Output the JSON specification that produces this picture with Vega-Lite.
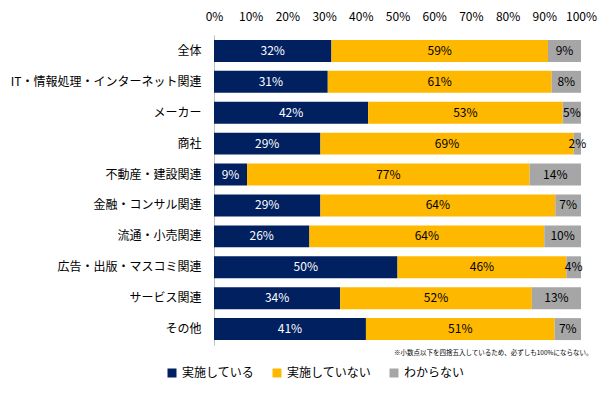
{
  "$schema": "https://vega.github.io/schema/vega-lite/v6.json",
  "width": 367,
  "height": 310,
  "autosize": {"type": "none"},
  "padding": {"left": 214, "top": 35, "right": 32, "bottom": 48},
  "background": "white",
  "config": {
    "view": {"stroke": null},
    "font": "Noto Sans CJK JP",
    "text": {"font": "Noto Sans CJK JP"}
  },
  "title": {
    "text": "※小数点以下を四捨五入しているため、必ずしも100%にならない。",
    "orient": "bottom",
    "anchor": "end",
    "fontSize": 6.5,
    "fontWeight": "normal",
    "color": "#000000",
    "offset": 2,
    "dx": -4,
    "dy": -31
  },
  "data": {
    "values": [
      {"cat": "全体", "ans": "実施している", "rank": 1, "v": 0.32},
      {"cat": "全体", "ans": "実施していない", "rank": 2, "v": 0.59},
      {"cat": "全体", "ans": "わからない", "rank": 3, "v": 0.09},
      {"cat": "IT・情報処理・インターネット関連", "ans": "実施している", "rank": 1, "v": 0.31},
      {"cat": "IT・情報処理・インターネット関連", "ans": "実施していない", "rank": 2, "v": 0.61},
      {"cat": "IT・情報処理・インターネット関連", "ans": "わからない", "rank": 3, "v": 0.08},
      {"cat": "メーカー", "ans": "実施している", "rank": 1, "v": 0.42},
      {"cat": "メーカー", "ans": "実施していない", "rank": 2, "v": 0.53},
      {"cat": "メーカー", "ans": "わからない", "rank": 3, "v": 0.05},
      {"cat": "商社", "ans": "実施している", "rank": 1, "v": 0.29},
      {"cat": "商社", "ans": "実施していない", "rank": 2, "v": 0.69},
      {"cat": "商社", "ans": "わからない", "rank": 3, "v": 0.02},
      {"cat": "不動産・建設関連", "ans": "実施している", "rank": 1, "v": 0.09},
      {"cat": "不動産・建設関連", "ans": "実施していない", "rank": 2, "v": 0.77},
      {"cat": "不動産・建設関連", "ans": "わからない", "rank": 3, "v": 0.14},
      {"cat": "金融・コンサル関連", "ans": "実施している", "rank": 1, "v": 0.29},
      {"cat": "金融・コンサル関連", "ans": "実施していない", "rank": 2, "v": 0.64},
      {"cat": "金融・コンサル関連", "ans": "わからない", "rank": 3, "v": 0.07},
      {"cat": "流通・小売関連", "ans": "実施している", "rank": 1, "v": 0.26},
      {"cat": "流通・小売関連", "ans": "実施していない", "rank": 2, "v": 0.64},
      {"cat": "流通・小売関連", "ans": "わからない", "rank": 3, "v": 0.10},
      {"cat": "広告・出版・マスコミ関連", "ans": "実施している", "rank": 1, "v": 0.50},
      {"cat": "広告・出版・マスコミ関連", "ans": "実施していない", "rank": 2, "v": 0.46},
      {"cat": "広告・出版・マスコミ関連", "ans": "わからない", "rank": 3, "v": 0.04},
      {"cat": "サービス関連", "ans": "実施している", "rank": 1, "v": 0.344},
      {"cat": "サービス関連", "ans": "実施していない", "rank": 2, "v": 0.522},
      {"cat": "サービス関連", "ans": "わからない", "rank": 3, "v": 0.134},
      {"cat": "その他", "ans": "実施している", "rank": 1, "v": 0.414},
      {"cat": "その他", "ans": "実施していない", "rank": 2, "v": 0.514},
      {"cat": "その他", "ans": "わからない", "rank": 3, "v": 0.072}
    ]
  },
  "transform": [
    {"stack": "v", "groupby": ["cat"], "sort": [{"field": "rank"}], "as": ["v0", "v1"]},
    {"calculate": "(datum.v0 + datum.v1) / 2", "as": "mid"}
  ],
  "encoding": {
    "y": {
      "field": "cat",
      "type": "nominal",
      "sort": null,
      "title": null,
      "scale": {"paddingInner": 0.29, "paddingOuter": 0.16},
      "axis": {
        "domain": true,
        "domainColor": "#BFBFBF",
        "ticks": false,
        "labelPadding": 13,
        "labelFontSize": 12,
        "labelColor": "#000000",
        "labelLimit": 300
      }
    }
  },
  "layer": [
    {
      "mark": {"type": "bar"},
      "encoding": {
        "x": {
          "field": "v0",
          "type": "quantitative",
          "scale": {"domain": [0, 1], "nice": false},
          "title": null,
          "axis": {
            "orient": "top",
            "format": ".0%",
            "values": [0, 0.1, 0.2, 0.3, 0.4, 0.5, 0.6, 0.7, 0.8, 0.9, 1],
            "domain": false,
            "ticks": false,
            "grid": false,
            "labelPadding": 12,
            "labelFontSize": 12,
            "labelColor": "#000000",
            "labelFlush": false,
            "labelOverlap": false
          }
        },
        "x2": {"field": "v1"},
        "color": {
          "field": "ans",
          "type": "nominal",
          "scale": {
            "domain": ["実施している", "実施していない", "わからない"],
            "range": ["#002060", "#FFB800", "#A6A6A6"]
          },
          "legend": {
            "title": null,
            "orient": "none",
            "direction": "horizontal",
            "legendX": -48,
            "legendY": 332,
            "symbolType": "square",
            "symbolSize": 81,
            "symbolStrokeWidth": 0,
            "labelFontSize": 12,
            "labelColor": "#000000",
            "labelOffset": 4,
            "columnPadding": 16,
            "padding": 0
          }
        }
      }
    },
    {
      "mark": {"type": "text", "fontSize": 12, "baseline": "middle", "align": "center"},
      "encoding": {
        "x": {
          "field": "mid",
          "type": "quantitative",
          "scale": {"domain": [0, 1], "nice": false},
          "title": null,
          "axis": {
            "orient": "top",
            "format": ".0%",
            "values": [0, 0.1, 0.2, 0.3, 0.4, 0.5, 0.6, 0.7, 0.8, 0.9, 1],
            "domain": false,
            "ticks": false,
            "grid": false,
            "labelPadding": 12,
            "labelFontSize": 12,
            "labelColor": "#000000",
            "labelFlush": false,
            "labelOverlap": false
          }
        },
        "text": {"field": "v", "type": "quantitative", "format": ".0%"},
        "color": {
          "condition": {"test": "datum.rank == 1", "value": "#FFFFFF"},
          "value": "#000000"
        }
      }
    }
  ]
}
